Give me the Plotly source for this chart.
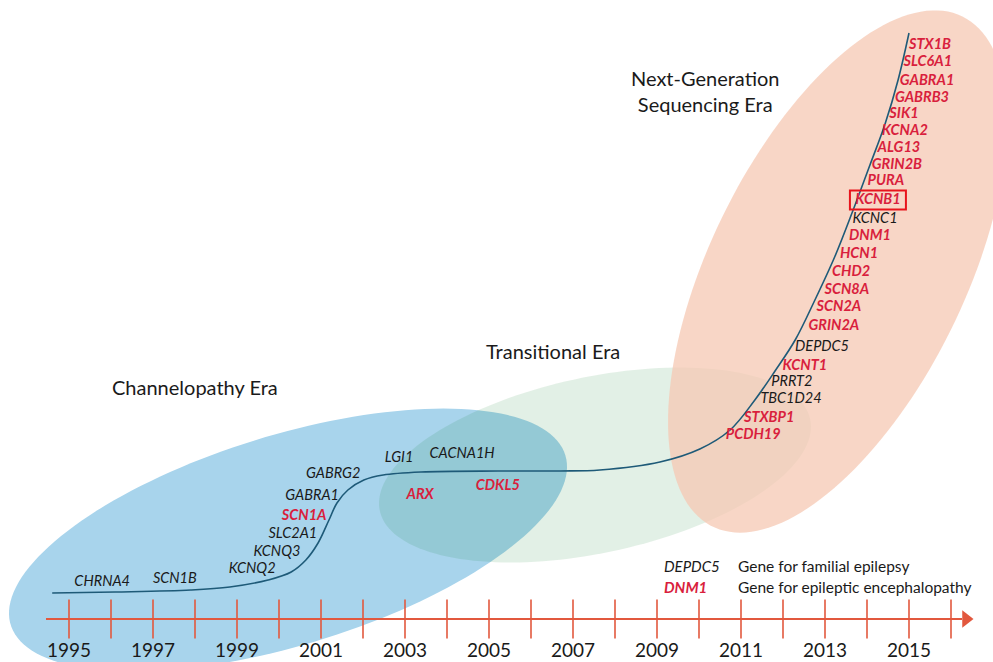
import numpy as np
import plotly.graph_objects as go

# ---------------- data ----------------
tick_years = list(range(1995, 2017))
label_years = [1995, 1997, 1999, 2001, 2003, 2005, 2007, 2009, 2011, 2013, 2015]

# discovery curve (x in years, y = vertical chart level, 0 at top)
curve_year = [1994.60, 1996.10, 1997.90, 1998.83, 1999.74, 2000.29, 2000.64, 2000.93,
              2001.19, 2001.38, 2001.64, 2002.02, 2002.48, 2003.38, 2005.21, 2006.69,
              2007.64, 2009.07, 2010.02, 2010.74, 2011.33, 2011.81, 2012.29, 2012.76,
              2013.24, 2013.67, 2014.07, 2014.43, 2014.74, 2015.00]
curve_level = [593, 592, 590, 587, 580, 572, 560, 543,
               520, 503, 490, 480, 475, 472, 471, 471,
               470, 462, 449, 430, 400, 371, 340, 300,
               256, 210, 165, 124, 80, 33]

genes = ["CHRNA4", "SCN1B", "KCNQ2", "KCNQ3", "SLC2A1", "SCN1A", "GABRA1", "GABRG2",
         "LGI1", "CACNA1H", "ARX", "CDKL5", "PCDH19", "STXBP1", "TBC1D24", "PRRT2",
         "KCNT1", "DEPDC5", "GRIN2A", "SCN2A", "SCN8A", "CHD2", "HCN1", "DNM1",
         "KCNC1", "KCNB1", "PURA", "GRIN2B", "ALG13", "KCNA2", "SIK1", "GABRB3",
         "GABRA1", "SLC6A1", "STX1B"]
gene_year = [1995.79, 1997.52, 1999.36, 1999.95, 2000.33, 2000.60, 2000.79, 2001.29,
             2002.86, 2004.36, 2003.36, 2005.21, 2011.29, 2011.67, 2012.19, 2012.21,
             2012.52, 2012.93, 2013.21, 2013.33, 2013.52, 2013.62, 2013.81, 2014.07,
             2014.19, 2014.26, 2014.45, 2014.71, 2014.76, 2014.90, 2014.88, 2015.31,
             2015.43, 2015.45, 2015.50]
gene_level = [582, 579, 569, 552, 534, 516, 496, 474,
              458, 454, 495, 486, 435, 418, 399, 382,
              366, 347, 326, 307, 290, 272, 254, 236,
              219, 200, 181, 165, 148, 131, 114, 98,
              81, 62, 45]
# F = gene for familial epilepsy, E = gene for epileptic encephalopathy
gene_type = ["F", "F", "F", "F", "F", "E", "F", "F",
             "F", "F", "E", "E", "E", "E", "F", "F",
             "E", "F", "E", "E", "E", "E", "E", "E",
             "F", "E", "E", "E", "E", "E", "E", "E",
             "E", "E", "E"]
highlight_gene = "KCNB1"

era_names = ["Channelopathy Era", "Transitional Era", "Next-Generation<br>Sequencing Era"]

# ---------------- layout helpers ----------------
W, H = 993, 662
PX_PER_YEAR = 42.0
X0 = 1995 - 69 / PX_PER_YEAR
X1 = X0 + W / PX_PER_YEAR


def px2yr(px):
    return X0 + np.asarray(px) / PX_PER_YEAR


def ellipse_path(cx, cy, a, b, theta_deg, n=160):
    t = np.linspace(0, 2 * np.pi, n)
    th = np.radians(theta_deg)
    px = cx + a * np.cos(t) * np.cos(th) - b * np.sin(t) * np.sin(th)
    py = cy - (a * np.cos(t) * np.sin(th) + b * np.sin(t) * np.cos(th))
    xs = px2yr(px)
    pts = [f"{x:.5f},{y:.3f}" for x, y in zip(xs, py)]
    return "M " + " L ".join(pts) + " Z"


RED = "#D91F3D"
BLACK = "#1A1A1A"
AXIS_RED = "#E2583E"
FONT = "Lato"

fig = go.Figure()

# era ellipses
shapes = [
    dict(type="path", path=ellipse_path(288, 540, 290, 105, 17), xref="x", yref="y",
         fillcolor="rgb(168,212,236)", line=dict(width=0), layer="below"),
    dict(type="path", path=ellipse_path(595, 465, 220, 88, 12), xref="x", yref="y",
         fillcolor="rgba(1,123,36,0.114)", line=dict(width=0), layer="below"),
    dict(type="path", path=ellipse_path(837.5, 271.5, 284, 127.5, 63.9), xref="x", yref="y",
         fillcolor="rgba(246,200,179,0.75)", line=dict(width=0), layer="below"),
]

# discovery curve
fig.add_trace(go.Scatter(x=curve_year, y=curve_level, mode="lines",
                         line=dict(color="#1E5A78", width=1.6, shape="spline", smoothing=1.0),
                         hoverinfo="skip", showlegend=False))

# gene labels
for typ, color, weight in [("F", BLACK, "normal"), ("E", RED, "bold")]:
    idx = [i for i, t in enumerate(gene_type) if t == typ]
    fig.add_trace(go.Scatter(
        x=[gene_year[i] for i in idx], y=[gene_level[i] for i in idx],
        text=[genes[i] for i in idx], mode="text", textposition="middle center",
        textfont=dict(family=FONT, size=14.5, color=color, style="italic", weight=weight),
        hoverinfo="skip", showlegend=False, cliponaxis=False))

# highlight box
hi = genes.index(highlight_gene)
shapes.append(dict(type="rect", xref="x", yref="y",
                   x0=gene_year[hi] - 28 / PX_PER_YEAR, x1=gene_year[hi] + 28 / PX_PER_YEAR,
                   y0=gene_level[hi] - 9.5, y1=gene_level[hi] + 9.5,
                   line=dict(color="#E8141C", width=2), fillcolor="rgba(0,0,0,0)"))

# timeline axis line + arrow head
AXIS_LEVEL = 619
fig.add_trace(go.Scatter(x=px2yr([46, 962]), y=[AXIS_LEVEL, AXIS_LEVEL], mode="lines",
                         line=dict(color=AXIS_RED, width=2), hoverinfo="skip", showlegend=False))
fig.add_trace(go.Scatter(x=px2yr([966]), y=[AXIS_LEVEL], mode="markers",
                         marker=dict(symbol="triangle-right", size=15, color=AXIS_RED),
                         hoverinfo="skip", showlegend=False))
# year ticks
fig.add_trace(go.Scatter(x=tick_years, y=[AXIS_LEVEL] * len(tick_years), mode="markers",
                         marker=dict(symbol="line-ns", size=28,
                                     line=dict(color=AXIS_RED, width=1.6)),
                         hoverinfo="skip", showlegend=False))

annotations = []
era_pos = [(195, 387), (553, 351), (705, 91)]
for name, (px, py) in zip(era_names, era_pos):
    annotations.append(dict(x=float(px2yr(px)), y=py, xref="x", yref="y", text=name,
                            showarrow=False, xanchor="center", yanchor="middle",
                            font=dict(family=FONT, size=20, color=BLACK)))

# legend
legend_rows = [("DEPDC5", BLACK, "normal", "Gene for familial epilepsy", 566),
               ("DNM1", RED, "bold", "Gene for epileptic encephalopathy", 587)]
for g, c, w, desc, py in legend_rows:
    annotations.append(dict(x=float(px2yr(662)), y=py, xref="x", yref="y", text=g,
                            showarrow=False, xanchor="left", yanchor="middle",
                            font=dict(family=FONT, size=15, color=c, style="italic", weight=w)))
    annotations.append(dict(x=float(px2yr(736)), y=py, xref="x", yref="y", text=desc,
                            showarrow=False, xanchor="left", yanchor="middle",
                            font=dict(family=FONT, size=15.5, color=BLACK)))

fig.update_layout(
    width=W, height=H, margin=dict(l=0, r=0, t=0, b=0),
    paper_bgcolor="white", plot_bgcolor="rgba(0,0,0,0)",
    shapes=shapes, annotations=annotations, showlegend=False,
    xaxis=dict(range=[X0, X1], showgrid=False, zeroline=False, showline=False,
               tickmode="array", tickvals=label_years, ticktext=[str(y) for y in label_years],
               tickfont=dict(family=FONT, size=19, color=BLACK), ticks="",
               anchor="free", position=(H - AXIS_LEVEL) / H, ticklabelstandoff=18,
               fixedrange=True),
    yaxis=dict(range=[H, 0], visible=False, fixedrange=True, domain=[0, 1]),
)

fig.write_html("out.html", config={"displayModeBar": False},
               post_script="document.body.style.margin='0';document.body.style.overflow='hidden';")
